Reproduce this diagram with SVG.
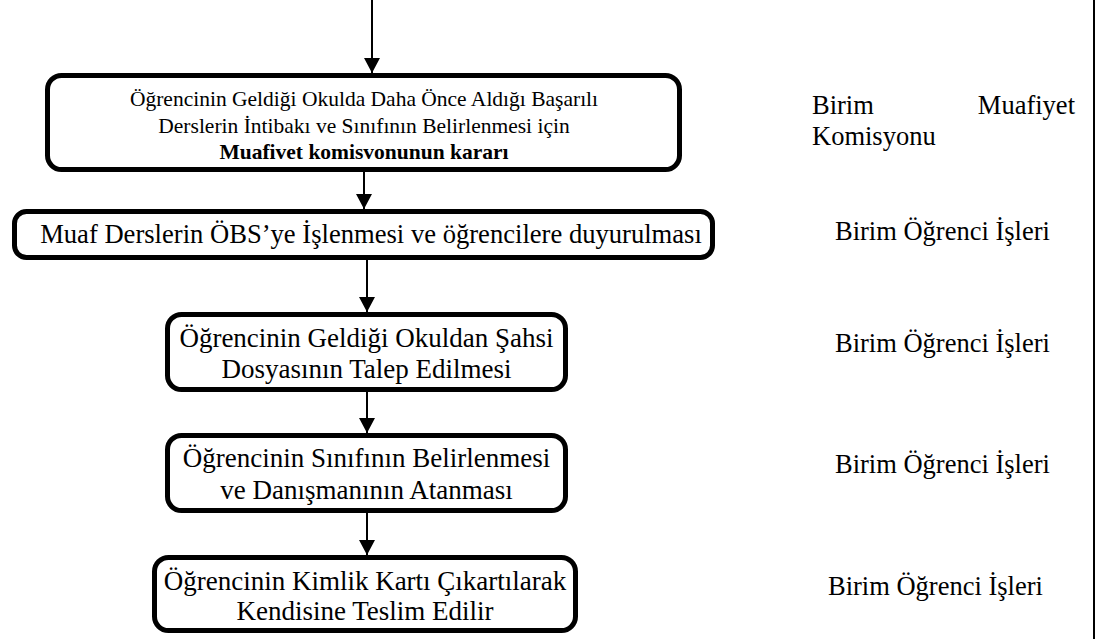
<svg xmlns="http://www.w3.org/2000/svg" width="1096" height="639" viewBox="0 0 1096 639">
<style>
.box{fill:#fff;stroke:#000;stroke-width:5}
text{font-family:'Liberation Serif','Times New Roman',Tinos,'DejaVu Serif',serif;fill:#000}
.t{text-anchor:middle}
.s{font-size:21.5px}
.m{font-size:27px}
.lab{font-size:26.5px}
.c{stroke:#000;stroke-width:2;fill:none;marker-end:url(#ah)}
</style>
<defs>
<marker id="ah" markerUnits="userSpaceOnUse" markerWidth="15" markerHeight="16" refX="15" refY="8" orient="auto" viewBox="0 0 15 16">
<path d="M0,0 L15,8 L0,16 Z" fill="#000"/>
</marker>
</defs>
<rect width="1096" height="639" fill="#fff"/>
<line x1="1094" y1="0" x2="1094" y2="639" stroke="#000" stroke-width="2"/>
<g id="connectors">
<line class="c" x1="372" y1="0" x2="372" y2="73"/>
<line class="c" x1="364" y1="172" x2="364" y2="209"/>
<line class="c" x1="367" y1="260" x2="367" y2="312"/>
<line class="c" x1="367" y1="392" x2="367" y2="433"/>
<line class="c" x1="367" y1="513" x2="367" y2="555"/>
</g>
<g id="n1">
<rect class="box" x="47.5" y="75.5" width="632" height="94" rx="14"/>
<text class="t s" x="364" y="106">Öğrencinin Geldiği Okulda Daha Önce Aldığı Başarılı</text>
<text class="t s" x="364" y="132.5">Derslerin İntibakı ve Sınıfının Belirlenmesi için</text>
<text class="t s" x="364" y="159" font-weight="bold">Muafivet komisvonunun kararı</text>
</g>
<g id="n2">
<rect class="box" x="14.5" y="211.5" width="698" height="46" rx="12"/>
<text class="t" font-size="26.6" x="371" y="243">Muaf Derslerin ÖBS’ye İşlenmesi ve öğrencilere duyurulması</text>
</g>
<g id="n3">
<rect class="box" x="167.5" y="314.5" width="398" height="75" rx="14"/>
<text class="t m" x="366.5" y="347">Öğrencinin Geldiği Okuldan Şahsi</text>
<text class="t m" x="366.5" y="378">Dosyasının Talep Edilmesi</text>
</g>
<g id="n4">
<rect class="box" x="167.5" y="435.5" width="398" height="75" rx="14"/>
<text class="t m" x="366.5" y="467">Öğrencinin Sınıfının Belirlenmesi</text>
<text class="t m" x="366.5" y="499">ve Danışmanının Atanması</text>
</g>
<g id="n5">
<rect class="box" x="154.5" y="557.5" width="421" height="73" rx="14"/>
<text class="t m" x="365" y="590">Öğrencinin Kimlik Kartı Çıkartılarak</text>
<text class="t m" x="365" y="620">Kendisine Teslim Edilir</text>
</g>
<g id="labels">
<text class="lab" x="812" y="114">Birim</text>
<text class="lab" x="1075" y="114" text-anchor="end">Muafiyet</text>
<text class="lab" x="812" y="145">Komisyonu</text>
<text class="lab" x="835" y="240">Birim Öğrenci İşleri</text>
<text class="lab" x="835" y="352">Birim Öğrenci İşleri</text>
<text class="lab" x="835" y="473">Birim Öğrenci İşleri</text>
<text class="lab" x="828" y="595">Birim Öğrenci İşleri</text>
</g>
</svg>
